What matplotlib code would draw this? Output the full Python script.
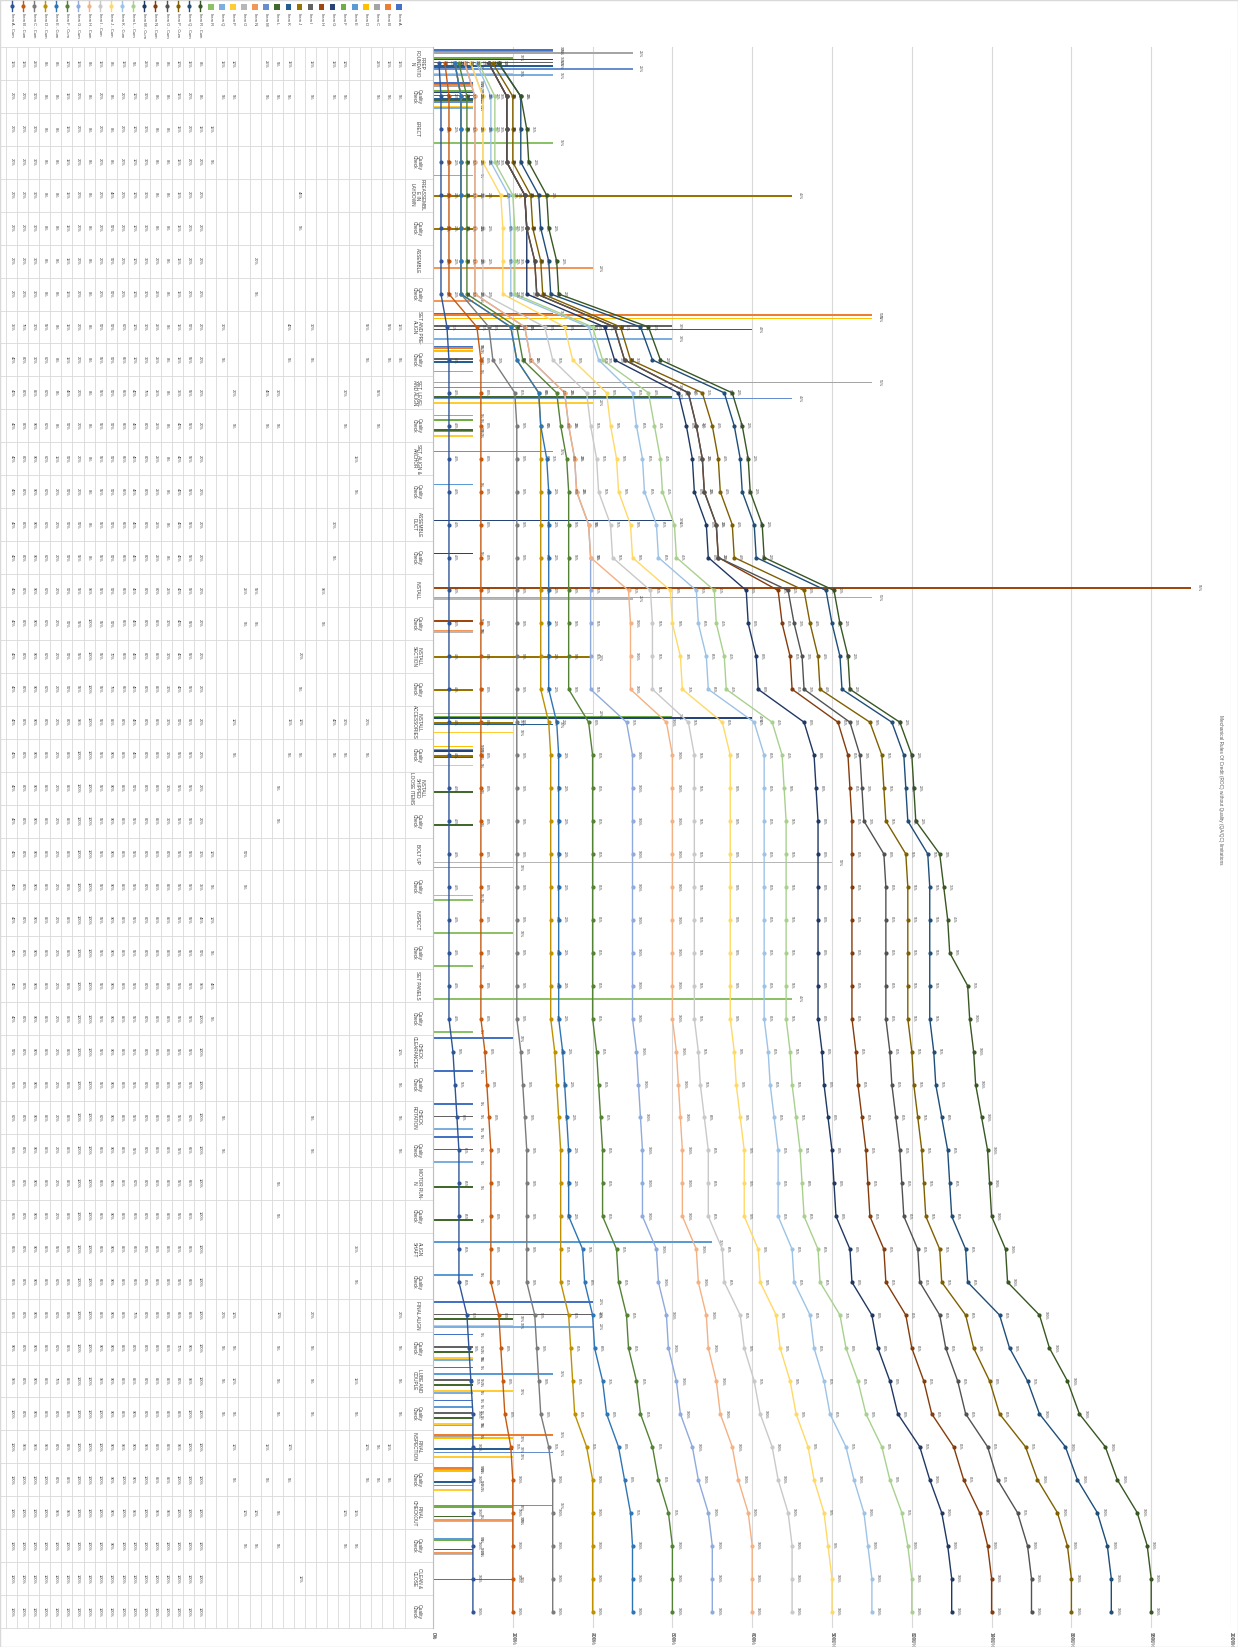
import numpy as np
import matplotlib
matplotlib.use("Agg")
import matplotlib.pyplot as plt
import matplotlib.transforms as mtransforms
from matplotlib.patches import Rectangle
from matplotlib.lines import Line2D

plt.rcParams['font.family'] = ['Liberation Sans', 'DejaVu Sans']

# ---------------------------------------------------------------- data
categories = [
    "PREP\nFOUNDATIO\nN", "Quality\nCheck", "ERECT", "Quality\nCheck",
    "PREASSEMBL\nE IN\nLAYDOWN", "Quality\nCheck", "ASSEMBLE", "Quality\nCheck",
    "SET AND PRE-\nALIGN", "Quality\nCheck", "SET, LEVEL\nAND ALIGN", "Quality\nCheck",
    "SET, ALIGN &\nANCHOR", "Quality\nCheck", "ASSEMBLE\nDUCT", "Quality\nCheck",
    "INSTALL", "Quality\nCheck", "INSTALL\nSECTION", "Quality\nCheck",
    "INSTALL\nACCESSORIES", "Quality\nCheck", "INSTALL\nSHIPPED\nLOOSE ITEMS", "Quality\nCheck",
    "BOLT UP", "Quality\nCheck", "INSPECT", "Quality\nCheck",
    "SET PANELS", "Quality\nCheck", "CHECK\nCLEARANCES", "Quality\nCheck",
    "CHECK\nROTATION", "Quality\nCheck", "MOTOR RUN-\nIN", "Quality\nCheck",
    "ALIGN\nSHAFT", "Quality\nCheck", "FINAL ALIGN", "Quality\nCheck",
    "LUBE AND\nCOUPLE", "Quality\nCheck", "FINAL\nINSPECTION", "Quality\nCheck",
    "FINAL\nCHECKOUT", "Quality\nCheck", "CLEAN &\nCLOSE", "Quality\nCheck",
]

items = ["Item A", "Item B", "Item C", "Item D", "Item E", "Item F",
         "Item G", "Item H", "Item I", "Item J", "Item K", "Item L",
         "Item M", "Item N", "Item O", "Item P", "Item Q", "Item R"]

# percent credited per step (step index -> %), blank elsewhere
item_a = {0: 15, 1: 5, 8: 15, 9: 5, 30: 10, 31: 5, 32: 5, 33: 5, 38: 20, 39: 5, 40: 5, 41: 5}
item_b = {0: 15, 1: 5, 8: 55, 9: 5, 42: 15, 43: 5}
item_c = {0: 25, 1: 5, 10: 55, 11: 5, 42: 5, 43: 5}
item_d = {8: 55, 9: 5, 20: 20, 21: 5, 42: 10, 43: 5}
item_e = {12: 15, 13: 5, 36: 35, 37: 5, 40: 15, 41: 5, 44: 15, 45: 5}
item_f = {0: 10, 1: 5, 10: 30, 11: 5, 20: 30, 21: 5, 44: 10, 45: 5}
item_g = {0: 15, 1: 5, 14: 30, 15: 5, 20: 40, 21: 5}
item_h = {16: 95, 17: 5}
item_i = {0: 15, 1: 5, 8: 30, 9: 5, 32: 5, 33: 5, 38: 20, 39: 5, 40: 5, 41: 5}
item_j = {4: 45, 5: 5, 18: 20, 19: 5, 20: 10, 21: 5, 46: 10}
item_k = {0: 15, 1: 5, 8: 40, 9: 5, 20: 15, 21: 5, 42: 10, 43: 5}
item_l = {0: 5, 1: 5, 10: 30, 11: 5, 22: 5, 23: 5, 34: 5, 35: 5, 38: 10, 39: 5,
          40: 5, 41: 5, 44: 5, 45: 5}
item_m = {0: 25, 1: 5, 10: 45, 11: 5, 42: 15, 43: 5}
item_n = {6: 20, 7: 5, 16: 55, 17: 5, 44: 10, 45: 5}
item_o = {16: 25, 17: 5, 24: 50, 25: 5, 44: 10, 45: 5}
item_p = {0: 10, 1: 5, 10: 20, 11: 5, 20: 10, 21: 5, 38: 10, 39: 5, 40: 10, 41: 5, 42: 10, 43: 5}
item_q = {0: 15, 1: 5, 8: 30, 9: 5, 32: 5, 33: 5, 38: 20, 39: 5, 40: 5, 41: 5}
item_r = {2: 15, 3: 5, 24: 10, 25: 5, 26: 10, 27: 5, 28: 45, 29: 5}

item_steps = [item_a, item_b, item_c, item_d, item_e, item_f, item_g, item_h, item_i,
              item_j, item_k, item_l, item_m, item_n, item_o, item_p, item_q, item_r]

bar_colors = ["#4472C4", "#ED7D31", "#A5A5A5", "#FFC000", "#5B9BD5", "#70AD47",
              "#264478", "#9E480E", "#636363", "#997300", "#255E91", "#43682B",
              "#698ED0", "#F1975A", "#B7B7B7", "#FFCD33", "#7CAFDD", "#8CC168"]
cum_colors = ["#2F5597", "#C55A11", "#7B7B7B", "#BF9000", "#2E75B6", "#548235",
              "#8FAADC", "#F4B183", "#C9C9C9", "#FFD966", "#9DC3E6", "#A9D18E",
              "#203864", "#843C0C", "#525252", "#7F6000", "#1F4E79", "#385723"]

primary_ticks = list(range(0, 101, 10))
secondary_ticks = list(range(0, 2001, 200))
title = "Mechanical Rules Of Credit (ROC) without Quality (QA/QC) limitations"

# ---------------------------------------------------------------- layout
W, H = 1238, 1647
fig = plt.figure(figsize=(W / 100, H / 100), dpi=100)
fig.patch.set_facecolor("white")


def fx(px):
    return px / W


def fy(py):
    return 1 - py / H


PL, PR, PT, PB = 433, 1231, 47, 1628
ax = fig.add_axes([fx(PL), fy(PB), (PR - PL) / W, (PB - PT) / H])
n = len(categories)
ypos = np.arange(n)
ax.set_ylim(n - 0.5, -0.5)
ax.set_xlim(0, 100)
ax.set_yticks([])
for s in ax.spines.values():
    s.set_visible(False)
ax.spines['left'].set_visible(True)
ax.spines['left'].set_color('#bfbfbf')
ax.spines['left'].set_linewidth(0.8)

ax.xaxis.tick_top()
ax.set_xticks(primary_ticks)
ax.set_xticklabels([f"{t}%" for t in primary_ticks], rotation=270,
                   fontsize=3.6, color="#595959")
ax.tick_params(axis='x', length=0, pad=3)
ax.grid(axis='x', color='#d9d9d9', lw=0.8)
ax.set_axisbelow(True)

ax2 = ax.twiny()
ax2.set_xlim(0, 2000)
ax2.set_ylim(n - 0.5, -0.5)
ax2.xaxis.set_ticks_position('bottom')
ax2.xaxis.set_label_position('bottom')
ax2.set_xticks(secondary_ticks)
ax2.set_xticklabels([f"{t}%" for t in secondary_ticks], rotation=270,
                    fontsize=3.6, color="#595959")
ax2.tick_params(axis='x', length=0, pad=3)
for s in ax2.spines.values():
    s.set_visible(False)

# ---------------------------------------------------------------- values
values = []
for steps in item_steps:
    v = np.full(n, np.nan)
    for k, val in steps.items():
        v[k] = val
    values.append(v)
cums = [np.cumsum(np.nan_to_num(v)) for v in values]

# ---------------------------------------------------------------- bars
nb = len(items)
cluster = 0.86
bh = cluster / nb
for j, (v, col) in enumerate(zip(values, bar_colors)):
    ys = ypos - cluster / 2 + bh * (j + 0.5)
    m = ~np.isnan(v)
    ax.barh(ys[m], v[m], height=bh, color=col, linewidth=0)
    for yy, vv in zip(ys[m], v[m]):
        ax.text(vv + 0.7, yy, f"{vv:g}%", rotation=270, fontsize=2.6,
                ha='left', va='center', color='#404040')

# ---------------------------------------------------------------- stacked cumulative lines
stack = np.zeros(n)
for j, (c, col) in enumerate(zip(cums, cum_colors)):
    stack = stack + c
    ax2.plot(stack, ypos, color=col, lw=1.0, marker='o', ms=2.0,
             mfc=col, mec=col, zorder=3)
    for i in range(n):
        ax2.text(stack[i] + 10, ypos[i], f"{c[i]:g}%", rotation=270,
                 fontsize=2.4, ha='left', va='center', color='#404040', zorder=4)

# ---------------------------------------------------------------- data table
tr = mtransforms.blended_transform_factory(fig.transFigure, ax.transData)
row_w = 11.07
row_x0 = 399
rows = [(items[k], values[k], False, k) for k in range(nb)] + \
       [(items[k] + " - Cum", cums[k], True, k) for k in reversed(range(nb))]

grid_c = '#d9d9d9'
# horizontal separators between steps
for b in np.arange(n + 1) - 0.5:
    ax.add_line(Line2D([0, fx(PL)], [b, b], transform=tr, color=grid_c,
                       lw=0.6, clip_on=False))
# vertical separators between rows
for r in range(len(rows) + 1):
    xb = fx(row_x0 + row_w / 2 - row_w * r)
    ax.add_line(Line2D([xb, xb], [-0.5, n - 0.5], transform=tr, color=grid_c,
                       lw=0.6, clip_on=False))

for r, (name, v, is_cum, k) in enumerate(rows):
    xc = fx(row_x0 - row_w * r)
    for i in range(n):
        if np.isnan(v[i]):
            continue
        ax.text(xc, i, f"{v[i]:g}%", transform=tr, rotation=270, fontsize=2.9,
                ha='center', va='center', color='#404040', clip_on=False)
    # row header with legend key
    if is_cum:
        col = cum_colors[k]
        fig.add_artist(Line2D([xc, xc], [fy(1), fy(11)], color=col, lw=1.0))
        fig.add_artist(Line2D([xc], [fy(6)], color=col, marker='o', ms=2.0, lw=0))
    else:
        fig.add_artist(Rectangle((xc - fx(2.8), fy(10)), fx(5.6), 5.6 / H,
                                 color=bar_colors[k], lw=0))
    fig.text(xc, fy(13), name, rotation=270, fontsize=3.0, ha='center',
             va='top', color='#404040')

# step names column
for i, lab in enumerate(categories):
    ax.text(fx(417), i, lab, transform=tr, rotation=270, fontsize=3.4,
            ha='center', va='center', multialignment='center',
            color='#404040', linespacing=1.0, clip_on=False)

# title
fig.text(fx(1221), fy(790), title, rotation=270, fontsize=3.4,
         ha='center', va='center', color='#595959')

fig.add_artist(Rectangle((0, 0), 1, 1, fill=False, edgecolor='#d9d9d9', lw=1.0,
                         transform=fig.transFigure))

fig.savefig("out.png", dpi=100)
